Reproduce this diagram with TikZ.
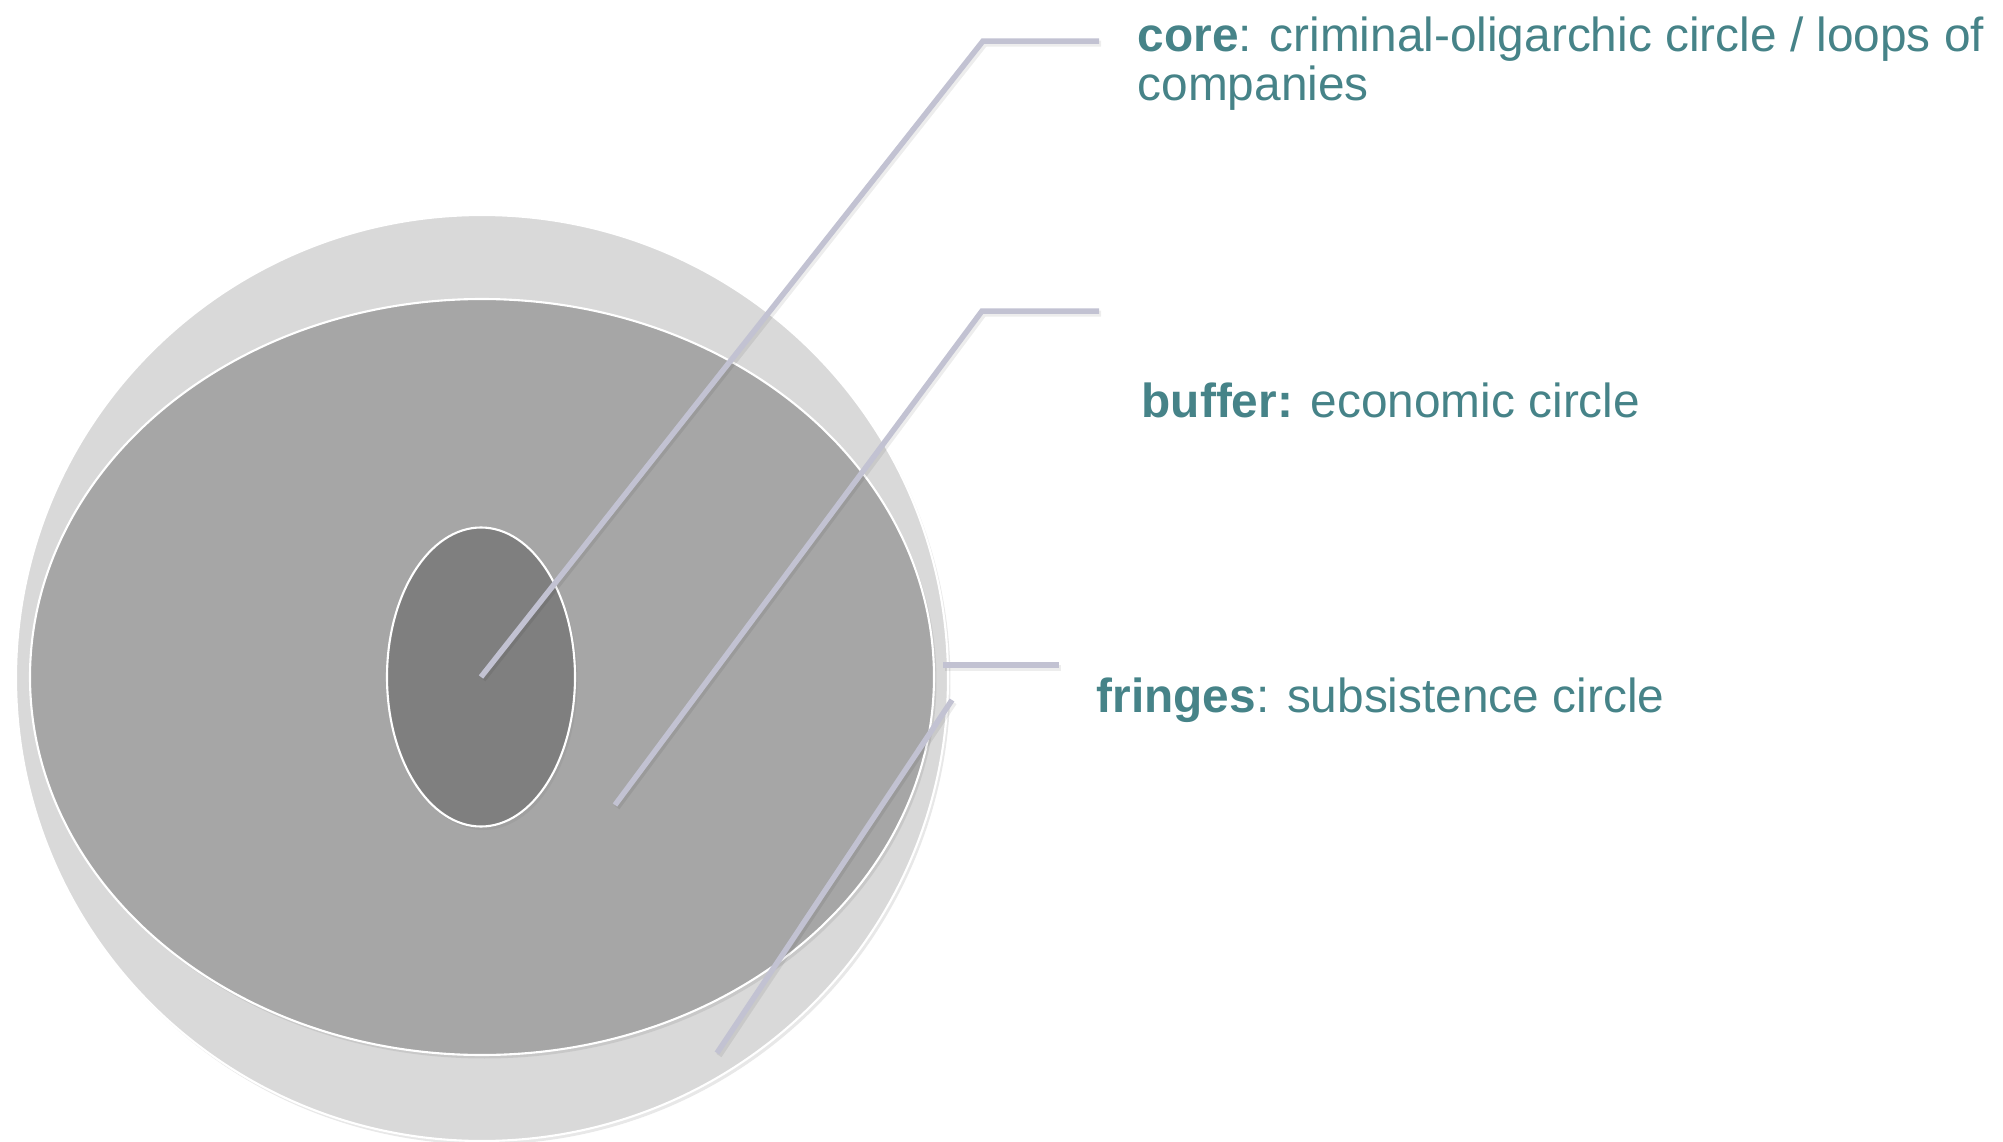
\documentclass[tikz,border=0pt]{standalone}
\usepackage{fontspec}
\setmainfont{Liberation Sans}
\usetikzlibrary{positioning,shapes.geometric,shadows}

\definecolor{ringlight}{RGB}{217,217,217}
\definecolor{ringmid}{RGB}{166,166,166}
\definecolor{ringdark}{RGB}{127,127,127}
\definecolor{leadergray}{RGB}{194,194,210}
\definecolor{labelteal}{RGB}{70,131,136}

\begin{document}
\begin{tikzpicture}[x=0.1mm,y=-0.1mm]
\tikzstyle{every node}+=[inner sep=0pt]
\tikzstyle{ring}=[ellipse,draw=white,line width=0.6pt,drop shadow={shadow xshift=0.25mm,shadow yshift=-0.35mm,opacity=0.18}]
\tikzstyle{leader}=[leadergray,line width=0.55mm,preaction={draw=black,opacity=0.07,line width=0.6mm,transform canvas={shift={(0.2mm,-0.25mm)}}}]
\tikzstyle{lbl}=[anchor=base west,text=labelteal,font=\fontsize{13.6}{13.9}\selectfont,align=left]
\useasboundingbox (0,0) rectangle (2003,1142);
\node [ring,fill=ringlight,minimum width=93.2mm,minimum height=92.6mm] (fringes) at (482,678) {};
\node [ring,fill=ringmid,minimum width=90.4mm,minimum height=75.6mm] (buffer) at (482,677) {};
\node [ring,fill=ringdark,minimum width=18.8mm,minimum height=29.9mm] (core) at (481,677) {};
\coordinate (corebend) at (983,41);
\coordinate (coreend) at (1099,41);
\coordinate (bufferfoot) at (615,805);
\coordinate (bufferbend) at (982,311);
\coordinate (bufferend) at (1099,311);
\coordinate (fringefoot) at (717,1053);
\coordinate (fringetop) at (952,700);
\coordinate (fringestub) at (943,665);
\coordinate (fringeend) at (1059,665);
\draw [leader] (core.center) -- (corebend) -- (coreend);
\draw [leader] (bufferfoot) -- (bufferbend) -- (bufferend);
\draw [leader] (fringefoot) -- (fringetop);
\draw [leader] (fringestub) -- (fringeend);
\node [lbl] (corelabel) at (1137,100) {\textbf{core}: criminal-oligarchic circle / loops of\\companies};
\node [lbl] (bufferlabel) at (1141,417) {\textbf{buffer:} economic circle};
\node [lbl] (fringelabel) at (1096,712) {\textbf{fringes}: subsistence circle};
\end{tikzpicture}
\end{document}
